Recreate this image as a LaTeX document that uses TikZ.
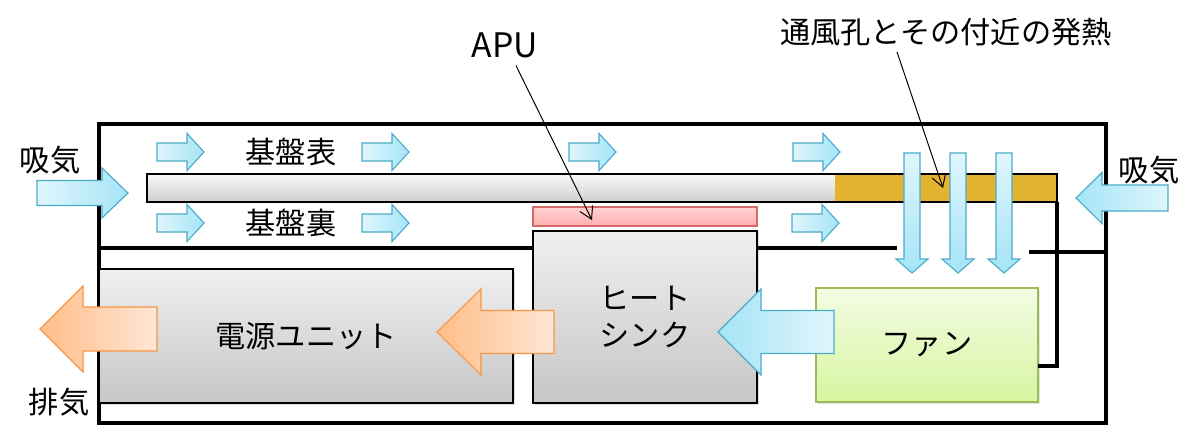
\documentclass[tikz,border=0pt]{standalone}
\usepackage{fontspec}
\setmainfont{Noto Sans CJK JP}
\usetikzlibrary{positioning,arrows.meta,shadows}
\definecolor{airlight}{HTML}{E0F6FC}
\definecolor{airdeep}{HTML}{A5E4F7}
\definecolor{airline}{HTML}{4BACC6}
\definecolor{heatlight}{HTML}{FFE6D6}
\definecolor{heatdeep}{HTML}{FFBE88}
\definecolor{heatline}{HTML}{F79646}
\definecolor{fanline}{HTML}{9BBB59}
\definecolor{fantop}{HTML}{F3FCE4}
\definecolor{fanbottom}{HTML}{D7F5A0}
\definecolor{boardgold}{HTML}{E1B331}
\definecolor{apuline}{HTML}{D46A6A}
\definecolor{aputop}{HTML}{FFD2D2}
\definecolor{apubottom}{HTML}{FFAEAE}
\tikzset{
	>={Straight Barb[length=3mm,width=3.5mm]}
}
% block arrows: style, tail, tip, centre, half shaft, half head, head length
\newcommand{\harrow}[7]{%
	\pgfmathsetmacro{\arrbase}{#3-sign(#3-#2)*#7}
	\path[#1] (#2,#4-#5) -- (\arrbase,#4-#5) -- (\arrbase,#4-#6) -- (#3,#4)
		-- (\arrbase,#4+#6) -- (\arrbase,#4+#5) -- (#2,#4+#5) -- cycle;
}
\newcommand{\varrow}[7]{%
	\pgfmathsetmacro{\arrbase}{#3-sign(#3-#2)*#7}
	\path[#1] (#4-#5,#2) -- (#4-#5,\arrbase) -- (#4-#6,\arrbase) -- (#4,#3)
		-- (#4+#6,\arrbase) -- (#4+#5,\arrbase) -- (#4+#5,#2) -- cycle;
}

\begin{document}
\begin{tikzpicture}[
x = .25mm, y = -.25mm,
node distance = 1mm,
every node/.style = {
	font = \fontsize{21.5}{26}\selectfont,
	inner sep = 0pt,
	outer sep = 0pt
},
casing/.style = {
	line width = 2.4pt
},
unitbox/.style = {
	draw,
	line width = .8pt,
	top color = gray!12,
	bottom color = gray!45,
	drop shadow = {opacity = .25, shadow xshift = .4mm, shadow yshift = -.6mm}
},
fanbox/.style = {
	draw = fanline,
	line width = .8pt,
	top color = fantop,
	bottom color = fanbottom,
	drop shadow = {opacity = .2, shadow xshift = .4mm, shadow yshift = -.6mm}
},
chip/.style = {
	draw = apuline,
	line width = .8pt,
	top color = aputop,
	bottom color = apubottom
},
boardbar/.style = {
	minimum height = 7mm
},
airR/.style = {
	draw = airline,
	line width = .8pt,
	left color = airlight,
	right color = airdeep
},
airL/.style = {
	draw = airline,
	line width = .8pt,
	left color = airdeep,
	right color = airlight
},
airD/.style = {
	draw = airline,
	line width = .8pt,
	top color = airlight,
	bottom color = airdeep
},
heatL/.style = {
	draw = heatline,
	line width = .8pt,
	left color = heatdeep,
	right color = heatlight
},
pointer/.style = {
	line width = .7pt,
	->
}
]
\useasboundingbox (0,0) rectangle (1200,437);

% casing
\coordinate (case_nw) at (99,124);
\coordinate (case_se) at (1106,423);
\draw[casing] (case_nw) rectangle (case_se);

% parts
\node (board_l) [boardbar, top color = gray!5, bottom color = gray!38, anchor = north west, minimum width = 172mm] at (147,174) {};
\node (board_r) [boardbar, fill = boardgold, minimum width = 55.5mm, right = 0pt of board_l] {};
\draw[line width = .8pt] (board_l.north west) rectangle (board_r.south east);

\node (sink) [unitbox, anchor = north west, minimum width = 56mm, minimum height = 43mm, align = center] at (533,231) {ヒート\\シンク};
\node (apu) [chip, minimum width = 56mm, minimum height = 4.75mm, above = 1.25mm of sink] {};
\node (psu) [unitbox, anchor = north west, minimum width = 103.5mm, minimum height = 33.5mm] at (99,269) {電源ユニット};
\node (fan) [fanbox, anchor = north west, minimum width = 55.5mm, minimum height = 28.5mm] at (816,288) {ファン};

% partitions
\coordinate (div_l) at (99,248);
\coordinate (div_m) at (897,248);
\coordinate (div_r) at (1029,252);
\draw[casing] (div_l) -- (div_l -| sink.west);
\draw[casing] (div_l -| sink.east) -- (div_m);
\draw[casing] (div_r) -- (div_r -| case_se);
\draw[casing] (board_r.south east) |- ([yshift = -5.25mm]fan.east);

% air flow
\harrow{airR}{37}{128}{193}{12.5}{25}{26}
\harrow{airL}{1168}{1076}{198}{13}{25.5}{26}
\foreach \xa in {157,362,569,793} {
	\harrow{airR}{\xa}{\xa+47}{152}{9}{18.5}{17}
}
\foreach \xa in {157,362,792} {
	\harrow{airR}{\xa}{\xa+47}{223}{9}{18.5}{17}
}
\foreach \xa in {912,958,1004} {
	\varrow{airD}{153}{273}{\xa}{8}{16}{14}
}
\harrow{airL}{834}{718}{332}{21.5}{43}{43}
\harrow{heatL}{554}{437}{332}{21.5}{43}{44}
\harrow{heatL}{157}{40}{329}{22}{43}{43}

% labels
\node (front_label) at (291,152) {基盤表};
\node (back_label) at (291,223) {基盤裏};
\node (in_l_label) at (50,160) {吸気};
\node (in_r_label) at (1149,170) {吸気};
\node (out_label) at (59,402) {排気};
\node (apu_label) [font = \fontsize{24}{28}\selectfont] at (505,45) {APU};
\node (heat_label) at (946,32) {通風孔とその付近の発熱};

\draw[pointer] ([xshift = 2.75mm, yshift = -2mm]apu_label.south) -- ([xshift = -13.25mm, yshift = -.9mm]apu.center);
\draw[pointer] ([xshift = -12.25mm, yshift = -1.5mm]heat_label.south) -- ([xshift = -.75mm]board_r.center);

\end{tikzpicture}
\end{document}
